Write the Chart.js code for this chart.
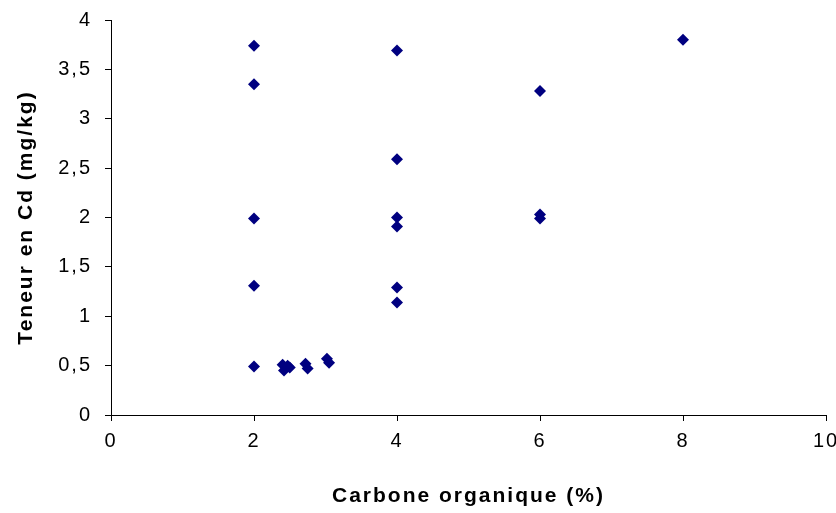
<!DOCTYPE html>
<html lang="fr">
<head>
<meta charset="UTF-8">
<title>Teneur en Cd vs Carbone organique</title>
<style>
  html, body { margin: 0; padding: 0; background: #fff; }
  #wrap { width: 836px; height: 513px; }
</style>
</head>
<body>
<div id="wrap"><canvas id="scatter" width="836" height="513"></canvas></div>
<script src="https://cdn.jsdelivr.net/npm/chart.js@4.4.0/dist/chart.umd.min.js"></script>
<script>
// carbone organique (%)
const carbone = [2, 2, 2, 2, 2,
                 2.4, 2.47, 2.42, 2.5, 2.72, 2.75, 3.02, 3.05,
                 4, 4, 4, 4, 4, 4,
                 6, 6, 6,
                 8];
// teneur en Cd (mg/kg)
const cadmium = [3.74, 3.35, 1.99, 1.31, 0.49,
                 0.51, 0.50, 0.45, 0.48, 0.52, 0.47, 0.57, 0.53,
                 3.69, 2.59, 2.0, 1.91, 1.29, 1.14,
                 3.28, 2.03, 1.99,
                 3.80];

const xTitle = 'Carbone organique (%)';
const yTitle = 'Teneur en Cd (mg/kg)';

const points = carbone.map((x, i) => ({ x: x, y: cadmium[i] }));

const tickFont = { family: 'Liberation Sans', size: 20 };
const titleFont = { family: 'Liberation Sans', size: 21, weight: 'bold' };

// the original uses a widely spaced bitmap-like font
const spacing = {
    id: 'spacing',
    beforeDraw(chart) { chart.ctx.letterSpacing = '2px'; }
};

new Chart(document.getElementById('scatter'), {
    type: 'scatter',
    data: {
        datasets: [{
            data: points,
            pointStyle: 'rectRot',
            pointRadius: 6,
            backgroundColor: '#000080',
            borderColor: '#000080',
            borderWidth: 0
        }]
    },
    options: {
        responsive: false,
        animation: false,
        layout: { padding: { top: 20, right: 10, left: 0, bottom: 0 } },
        plugins: { legend: { display: false }, tooltip: { enabled: false } },
        scales: {
            x: {
                type: 'linear',
                min: 0, max: 10,
                ticks: { stepSize: 2, color: '#000', font: tickFont, padding: 8 },
                grid: { drawOnChartArea: false, color: '#000', tickLength: 6 },
                border: { color: '#000', width: 1 },
                title: { display: true, text: xTitle, color: '#000', font: titleFont, padding: { top: 16 } },
                afterFit: s => { s.height = 98; s.paddingLeft = 0; s.paddingRight = 0; }
            },
            y: {
                min: 0, max: 4,
                ticks: {
                    stepSize: 0.5, color: '#000', font: tickFont, padding: 13,
                    callback: v => String(v).replace('.', ',')
                },
                grid: { drawOnChartArea: false, color: '#000', tickLength: 6 },
                border: { color: '#000', width: 1 },
                title: { display: true, text: yTitle, color: '#000', font: titleFont, padding: { top: 14, bottom: 0 } },
                afterFit: s => { s.width = 111; s.paddingTop = 0; s.paddingBottom = 0; }
            }
        }
    },
    plugins: [spacing]
});
</script>
</body>
</html>
